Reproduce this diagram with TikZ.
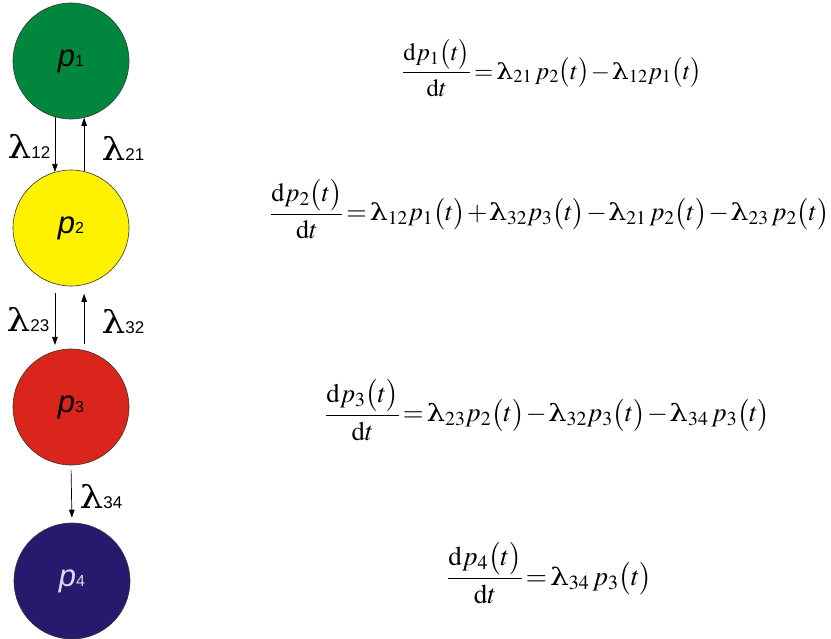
\documentclass[tikz,border=0pt]{standalone}
\usepackage{amsmath}
\usepackage{graphicx}
\usepackage{mathptmx}
\usepackage[no-math]{fontspec}
\setmainfont{Liberation Serif}
\newfontfamily\arialf{Liberation Sans}
\newfontfamily\lamf{DejaVu Serif}
\usetikzlibrary{arrows.meta}
\definecolor{cgreen}{RGB}{0,135,62}
\definecolor{cyellow}{RGB}{255,242,0}
\definecolor{cred}{RGB}{218,37,29}
\definecolor{cnavy}{RGB}{38,26,110}
\definecolor{clav}{RGB}{225,215,240}
\newcommand{\plab}[1]{{\arialf\fontsize{31}{31}\selectfont\itshape p\fontsize{16}{16}\selectfont\upshape #1}}
\newcommand{\llab}[1]{{\scalebox{1.25}[1.05]{\lamf\fontsize{30}{30}\selectfont λ}\arialf\fontsize{17}{17}\selectfont #1}}
\newcommand{\lam}{\mbox{\scalebox{1.3}[1.05]{\lamf\fontsize{22}{24}\selectfont λ}}}
\newcommand{\Pt}[1]{p_{#1}\bigl(t\bigr)}
\newcommand{\tightm}{\medmuskip=1mu\relax\thickmuskip=2mu\relax}
\newcommand{\eqfit}[2]{\resizebox{#1pt}{!}{$\tightm\displaystyle #2$}}
\begin{document}
\begin{tikzpicture}[x=1pt,y=-1pt,
  state/.style={circle,draw=black!80,line width=0.6pt,minimum size=116pt,inner sep=0pt},
  flow/.style={line width=0.7pt,-{Triangle[length=8pt,width=5.5pt]}},
  lab/.style={inner sep=0pt},
  eqn/.style={inner sep=0pt,anchor=west,font=\fontsize{26}{30}\selectfont}]
\useasboundingbox (0,0) rectangle (831,638);
\node[state,fill=cgreen] (p1) at (71,61) {\plab{1}};
\node[state,fill=cyellow] (p2) at (71,228) {\plab{2}};
\node[state,fill=cred] (p3) at (71,407) {\plab{3}};
\node[state,fill=cnavy,text=clav] (p4) at (72,581) {\plab{4}};
% arrows
\draw[flow] (p1.-106) -- (p2.106);
\draw[flow] (p2.77) -- (p1.-77);
\draw[flow,shorten <=9pt,shorten >=6pt] (p2.-106) -- (p3.106);
\draw[flow,shorten <=6pt,shorten >=9pt] (p3.77) -- (p2.-77);
\draw[flow,shorten <=5pt,shorten >=5pt] (p3.south) -- (p4.north);
% labels
\node[lab] (l12) at (29,146) {\llab{12}};
\node[lab] (l21) at (123,148) {\llab{21}};
\node[lab] (l23) at (28,320) {\llab{23}};
\node[lab] (l32) at (123,322) {\llab{32}};
\node[lab] (l34) at (101,497) {\llab{34}};
% equations
\node[eqn] (eq1) at (402,68) {\eqfit{300}{\dfrac{\mathrm{d}\Pt{1}}{\mathrm{d}t}=\lam_{21}\;\Pt{2}-\lam_{12}\Pt{1}}};
\node[eqn] (eq2) at (270,209) {\eqfit{559}{\dfrac{\mathrm{d}\Pt{2}}{\mathrm{d}t}=\lam_{12}\Pt{1}+\lam_{32}\Pt{3}-\lam_{21}\;\Pt{2}-\lam_{23}\;\Pt{2}}};
\node[eqn] (eq3) at (325,410) {\eqfit{445}{\dfrac{\mathrm{d}\Pt{3}}{\mathrm{d}t}=\lam_{23}\Pt{2}-\lam_{32}\Pt{3}-\lam_{34}\;\Pt{3}}};
\node[eqn] (eq4) at (447,573) {\eqfit{205}{\dfrac{\mathrm{d}\Pt{4}}{\mathrm{d}t}=\lam_{34}\;\Pt{3}}};
\end{tikzpicture}
\end{document}
